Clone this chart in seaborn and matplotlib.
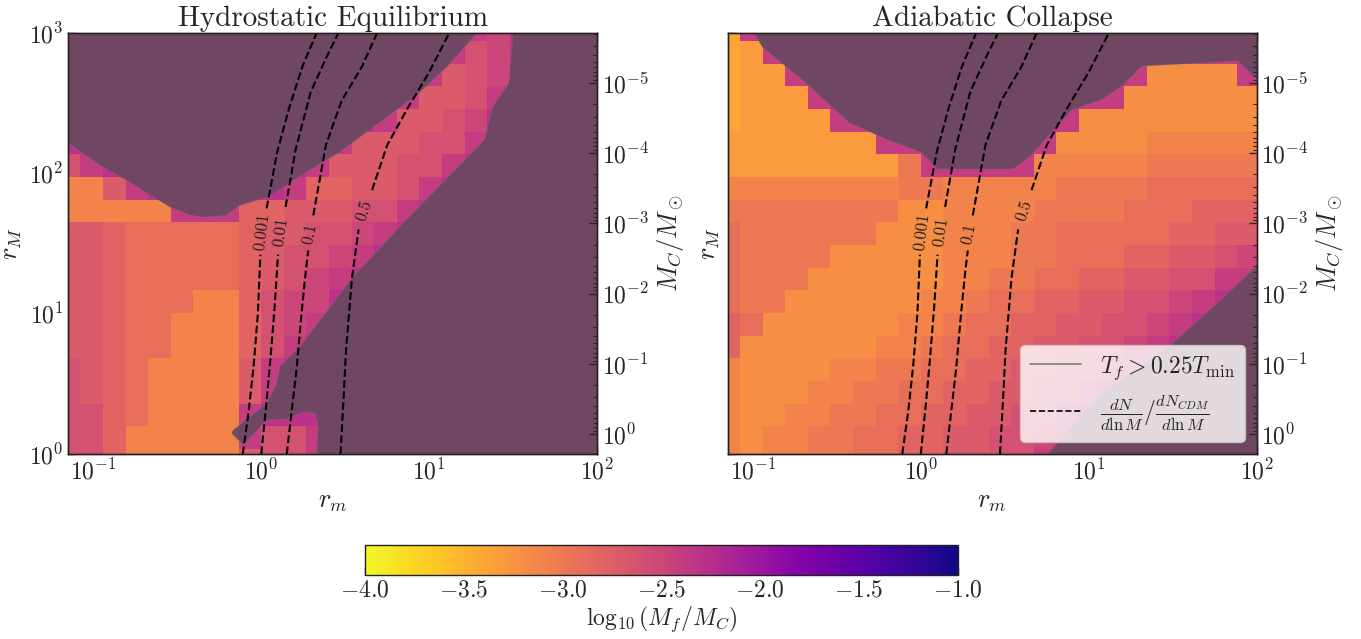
import numpy as np
import matplotlib
matplotlib.use("Agg")
import matplotlib.pyplot as plt
import seaborn as sns
from matplotlib.lines import Line2D
from matplotlib.ticker import (LogLocator, NullLocator, NullFormatter, FixedLocator,
                               MultipleLocator, FuncFormatter)

# ------------------------------------------------------------------ data
# colour levels of log10(M_f/M_C), coded one character per grid cell
LEVEL_CODES = "0123456789ab"
LEVEL_VALUES = [-3.4, -3.3, -3.2, -3.1, -3.0, -2.9, -2.8, -2.7, -2.6, -2.5, -2.4, -2.3]

# grid of (r_m, r_M) cells, log10 edges
LOG_RM_FIRST_EDGE, LOG_RM_STEP, N_COLS = -1.2116, 0.1346, 24
LOG_RMM_FIRST_EDGE, LOG_RMM_STEP, N_ROWS = -0.1255, 0.1615, 20

# Hydrostatic Equilibrium, rows from top (large r_M) to bottom
HE_ROWS = [
    "bbbbbbbbbbbbbbbbbba9bbbb",
    "bbbbbbbbbbbbbbbbba89bbbb",
    "bbbbbbbbbbbbbbbba789bbbb",
    "bbbbbbbbbbbbbbba778abbbb",
    "bbbbbbbbbbbbbba7789bbbbb",
    "bbbbbbbbbbbba77788abbbbb",
    "8abbbbbbbbba77788abbbbbb",
    "337abbbbbba66778abbbbbbb",
    "33333aaa6677788abbbbbbbb",
    "77655555677889abbbbbbbbb",
    "7765555567889abbbbbbbbbb",
    "776555556789abbbbbbbbbbb",
    "776555336899bbbbbbbbbbbb",
    "77655333689abbbbbbbbbbbb",
    "7765533368abbbbbbbbbbbbb",
    "876533337abbbbbbbbbbbbbb",
    "876533337abbbbbbbbbbbbbb",
    "88653333abbbbbbbbbbbbbbb",
    "88633333a88abbbbbbbbbbbb",
    "88633333788abbbbbbbbbbbb",
]

# Adiabatic Collapse, rows from top to bottom
AC_ROWS = [
    "0abbbbbbbbbbbbbbbbbbbbbb",
    "01abbbbbbbbbbbbbbbbaaaab",
    "011abbbbbbbbbbbbbba2222a",
    "0111abbbbbbbbbbbaa222222",
    "01111aabbbbbbbba22222222",
    "1111111aabbbbba222233333",
    "111111114aaaaa3333344444",
    "333333334433333444455555",
    "444444442233334444555666",
    "544444422233344555556677",
    "544442222233344555667789",
    "5444222222334455667788aa",
    "544222222334556677889abb",
    "65222222334556677889abbb",
    "6222222334556677889abbbb",
    "322223344556677889abbbbb",
    "3222334455667788abbbbbbb",
    "322334455667788abbbbbbbb",
    "323344556677889abbbbbbbb",
    "32334455667788abbbbbbbbb",
]

# regions where T_f > 0.25 T_min (log10 r_m, log10 r_M outlines)
HE_TOP_LOGX = [-1.3, -1.3, -1.149, -0.945, -0.80, -0.67, -0.537, -0.42, -0.333, -0.211,
               -0.13, 0.04, 0.23, 0.369, 0.468, 0.668, 0.929, 1.1, 1.286, 1.33]
HE_TOP_LOGY = [3.2, 2.22, 2.214, 2.045, 1.948, 1.85, 1.755, 1.70, 1.687, 1.70,
               1.77, 1.83, 1.98, 2.08, 2.15, 2.33, 2.56, 2.75, 3.0, 3.2]
HE_LOW_LOGX = [1.50, 1.50, 1.475, 1.38, 1.33, 0.825, 0.548, 0.23, 0.111, 0.09, 0.032,
               -0.167, -0.176, -0.107, 0.03, 0.151, 0.25, 0.32, 0.34, 0.33, 0.33, 2.2, 2.2]
HE_LOW_LOGY = [3.2, 3.0, 2.64, 2.48, 2.24, 1.62, 1.264, 0.765, 0.622, 0.50, 0.36,
               0.171, 0.147, 0.064, 0.24, 0.25, 0.30, 0.29, 0.195, 0.0, -0.2, -0.2, 3.2]
AC_TOP_LOGX = [-1.0, -0.994, -0.944, -0.686, -0.426, -0.2, 0.0, 0.1, 0.55, 0.65, 0.9,
               1.077, 1.197, 1.316, 1.89, 2.0, 2.2, 2.2]
AC_TOP_LOGY = [3.2, 3.0, 2.90, 2.645, 2.36, 2.24, 2.15, 2.03, 2.03, 2.12, 2.45,
               2.525, 2.62, 2.763, 2.80, 2.67, 2.67, 3.2]
AC_LOW_LOGX = [0.74, 0.755, 1.083, 1.46, 1.79, 2.0, 2.2, 2.2]
AC_LOW_LOGY = [-0.2, 0.0, 0.44, 0.747, 1.10, 1.34, 1.45, -0.2]

# dN/dlnM / dN_CDM/dlnM contours (log10 r_m, log10 r_M), split at the label
CONTOUR_LABELS = ["0.001", "0.01", "0.1", "0.5"]
C0001_LO = ([-0.11, -0.075, -0.045, -0.02, -0.005], [0.0, 0.3, 0.63, 1.0, 1.42])
C0001_HI = ([0.032, 0.095, 0.165, 0.245, 0.33], [1.75, 2.15, 2.46, 2.76, 3.0])
C001_LO = ([0.0, 0.03, 0.055, 0.08, 0.10], [0.0, 0.35, 0.68, 1.05, 1.42])
C001_HI = ([0.145, 0.205, 0.295, 0.39, 0.46], [1.76, 2.17, 2.58, 2.83, 3.0])
C01_LO = ([0.152, 0.21, 0.24, 0.265, 0.28], [0.0, 0.6, 1.0, 1.30, 1.45])
C01_HI = ([0.31, 0.385, 0.48, 0.60, 0.69], [1.70, 2.2, 2.52, 2.76, 3.0])
C05_LO = ([0.472, 0.49, 0.505, 0.54, 0.58], [0.0, 0.39, 0.74, 1.25, 1.60])
C05_HI = ([0.66, 0.75, 0.87, 1.0, 1.12], [1.88, 2.2, 2.46, 2.72, 3.0])
LABEL_LOGX = [0.005, 0.118, 0.288, 0.615]
LABEL_LOGY = [1.58, 1.58, 1.57, 1.735]

# twin axis: M_C / M_sun = MC_COEF * r_M^-2
MC_COEF = 1.93
MC_TICKS = [1e0, 1e-1, 1e-2, 1e-3, 1e-4, 1e-5]

TITLES = ["Hydrostatic Equilibrium", "Adiabatic Collapse"]

# ------------------------------------------------------------------ style
sns.set_style("ticks")
plt.rcParams.update({
    "font.family": ["serif"],
    "font.serif": ["cmr10"],
    "mathtext.fontset": "cm",
    "axes.formatter.use_mathtext": True,
    "axes.linewidth": 1.0,
    "axes.edgecolor": "#222222",
    "xtick.direction": "in",
    "ytick.direction": "in",
    "xtick.major.size": 5.5, "ytick.major.size": 5.5,
    "xtick.minor.size": 3.0, "ytick.minor.size": 3.0,
    "xtick.major.width": 1.0, "ytick.major.width": 1.0,
    "xtick.minor.width": 0.8, "ytick.minor.width": 0.8,
})

OVERLAY_FACE = (110 / 255, 72 / 255, 98 / 255, 0.97)
OVERLAY_EDGE = (0.5, 0.45, 0.5, 0.35)
CMAP, VMIN, VMAX = "plasma_r", -4.0, -1.0
TICK_FS, LABEL_FS, TITLE_FS = 17, 19, 21


def decode(rows):
    lut = dict(zip(LEVEL_CODES, LEVEL_VALUES))
    return np.array([[lut[c] for c in r] for r in rows[::-1]])


x_edges = 10 ** (LOG_RM_FIRST_EDGE + LOG_RM_STEP * np.arange(N_COLS + 1))
y_edges = 10 ** (LOG_RMM_FIRST_EDGE + LOG_RMM_STEP * np.arange(N_ROWS + 1))

fig = plt.figure(figsize=(13.61, 6.39), dpi=100)
ax1 = fig.add_axes([0.0502, 0.2895, 0.3885, 0.659])
ax2 = fig.add_axes([0.5348, 0.2895, 0.3885, 0.659])
cax = fig.add_axes([0.268, 0.1002, 0.4357, 0.047])

panels = [
    (ax1, HE_ROWS, (HE_TOP_LOGX, HE_TOP_LOGY), (HE_LOW_LOGX, HE_LOW_LOGY)),
    (ax2, AC_ROWS, (AC_TOP_LOGX, AC_TOP_LOGY), (AC_LOW_LOGX, AC_LOW_LOGY)),
]
contours = [(C0001_LO, C0001_HI), (C001_LO, C001_HI), (C01_LO, C01_HI), (C05_LO, C05_HI)]
label_rot = [83, 82, 79, 72]

mesh = None
for i, (ax, rows, top_poly, low_poly) in enumerate(panels):
    ax.set_xscale("log")
    ax.set_yscale("log")
    mesh = ax.pcolormesh(x_edges, y_edges, decode(rows), cmap=CMAP,
                         vmin=VMIN, vmax=VMAX, shading="flat", zorder=1)
    for lx, ly in (top_poly, low_poly):
        ax.fill(10 ** np.array(lx), 10 ** np.array(ly), facecolor=OVERLAY_FACE,
                edgecolor=OVERLAY_EDGE, linewidth=0.6, zorder=2)
    for (lo, hi), lab, lxp, lyp, rot in zip(contours, CONTOUR_LABELS,
                                            LABEL_LOGX, LABEL_LOGY, label_rot):
        for seg in (lo, hi):
            sns.lineplot(x=10 ** np.array(seg[0]), y=10 ** np.array(seg[1]), ax=ax,
                         color="black", linestyle="--", linewidth=1.5,
                         sort=False, estimator=None, legend=False, zorder=3)
        ax.text(10 ** lxp, 10 ** lyp, lab, rotation=rot, ha="center", va="center",
                rotation_mode="anchor", fontsize=12, color="#222222", zorder=4)

    ax.set_xlim(0.071, 100)
    ax.set_ylim(1, 1000)
    ax.set_title(TITLES[i], fontsize=TITLE_FS, pad=5)
    ax.set_xlabel(r"$r_m$", fontsize=LABEL_FS)
    ax.set_ylabel(r"$r_M$", fontsize=LABEL_FS)
    ax.xaxis.set_major_locator(LogLocator(base=10, numticks=10))
    ax.xaxis.set_minor_locator(NullLocator())
    ax.yaxis.set_major_locator(LogLocator(base=10, numticks=10))
    ax.yaxis.set_minor_locator(LogLocator(base=10, subs=np.arange(2, 10), numticks=20))
    ax.yaxis.set_minor_formatter(NullFormatter())
    ax.tick_params(which="both", top=True, right=False, labelsize=TICK_FS)
    if i == 1:
        ax.tick_params(labelleft=False)

    tw = ax.twinx()
    tw.set_yscale("log")
    tw.set_ylim(MC_COEF * 1.0 ** -2, MC_COEF * 1000.0 ** -2)
    tw.yaxis.set_major_locator(FixedLocator(MC_TICKS))
    tw.yaxis.set_minor_locator(LogLocator(base=10, subs=np.arange(2, 10), numticks=40))
    tw.yaxis.set_minor_formatter(NullFormatter())
    tw.tick_params(which="both", direction="in", right=True, left=False,
                   labelsize=TICK_FS)
    tw.set_ylabel(r"$M_C/M_\odot$", fontsize=LABEL_FS)
    for sp in tw.spines.values():
        sp.set_edgecolor("#222222")

    if i == 1:
        handles = [Line2D([], [], color="gray", lw=1.2),
                   Line2D([], [], color="black", lw=1.2, linestyle="--")]
        labels = [r"$T_f > 0.25T_{\min}$",
                  r"$\frac{dN}{d\ln M}/\frac{dN_{CDM}}{d\ln M}$"]
        tw.legend(handles, labels, loc="lower right", fontsize=17,
                  frameon=True, framealpha=0.8, facecolor="white",
                  edgecolor="#cccccc", handlelength=2.2)

cb = fig.colorbar(mesh, cax=cax, orientation="horizontal")
cb.set_ticks(np.arange(-4.0, -0.99, 0.5))
cb.ax.xaxis.set_minor_locator(MultipleLocator(0.1))
cb.ax.xaxis.set_major_formatter(FuncFormatter(lambda v, p: rf"${v:.1f}$"))
cb.ax.tick_params(which="both", direction="in", labelsize=TICK_FS, bottom=True, top=False)
cb.ax.tick_params(which="major", length=6)
cb.ax.tick_params(which="minor", length=3)
cb.set_label(r"$\log_{10}(M_f/M_C)$", fontsize=TICK_FS, labelpad=2)
cb.outline.set_edgecolor("#222222")

fig.savefig("out.png", dpi=100)
